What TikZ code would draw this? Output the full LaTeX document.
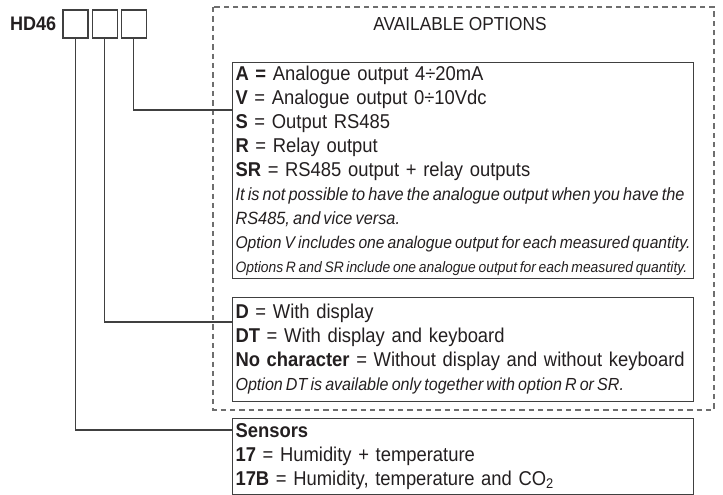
\documentclass[tikz,border=0pt]{standalone}
\usepackage{fontspec}
\setmainfont{Liberation Sans}[FakeStretch=0.92]
\usetikzlibrary{positioning}
\definecolor{ink}{HTML}{231F20}
\definecolor{edgegray}{HTML}{404040}
\definecolor{framegray}{HTML}{6E6E6E}
\newcommand{\note}[2]{\mbox{\fontsize{#1}{18}\selectfont\itshape\spaceskip=0.7\fontdimen2\font\relax #2}}

\begin{document}
\begin{tikzpicture}[x=0.75pt,y=-0.75pt,line width=0.8pt,draw=edgegray,text=ink,
    codebox/.style={draw=edgegray,minimum width=18.75pt,minimum height=21pt,inner sep=0pt},
    optbox/.style={draw=edgegray,anchor=north west,align=left,text width=341pt,
        inner xsep=2.25pt,inner ysep=0pt,font=\fontsize{15}{18}\selectfont},
    frame/.style={draw=framegray,dash pattern=on 4pt off 3pt}]
    \useasboundingbox (0,0) rectangle (723,495);
    % dashed frame round the options
    \draw[frame] (213,7) rectangle (714,410);
    \node[font=\fontsize{14.1}{16}\selectfont] (title) at (460,24) {AVAILABLE OPTIONS};

    % the code boxes
    \node[codebox] (sq1) at (75.5,24) {};
    \node[codebox, right=2.25pt of sq1] (sq2) {};
    \node[codebox, right=2.25pt of sq2] (sq3) {};
    \node[font=\bfseries\fontsize{14.7}{16}\selectfont, left=1pt of sq1] (hd) {HD46};

    \node[optbox, minimum height=162pt] (opt) at (232,62) {%
        \textbf{A =} Analogue output 4÷20mA\\
        \textbf{V} = Analogue output 0÷10Vdc\\
        \textbf{S} = Output RS485\\
        \textbf{R} = Relay output\\
        \textbf{SR} = RS485 output + relay outputs\\
        \note{13.3}{It is not possible to have the analogue output when you have the}\\
        \note{13.3}{RS485, and vice versa.}\\
        \note{12.75}{Option V includes one analogue output for each measured quantity.}\\
        \note{11.3}{Options R and SR include one analogue output for each measured quantity.}};
    \node[optbox, minimum height=78pt] (disp) at (232,297) {%
        \textbf{D} = With display\\
        \textbf{DT} = With display and keyboard\\
        \textbf{No character} = Without display and without keyboard\\
        \note{13.1}{Option DT is available only together with option R or SR.}};
    \node[optbox, minimum height=57pt] (sens) at (232,418) {%
        \textbf{Sensors}\\
        \textbf{17} = Humidity + temperature\\
        \textbf{17B} = Humidity, temperature and CO\textsubscript{2}};

    % connectors
    \draw (sq3.south) |- ([yshift=-36pt]opt.north west);
    \draw (sq2.south) |- ([yshift=-18.75pt]disp.north west);
    \draw (sq1.south) |- ([yshift=-9pt]sens.north west);
\end{tikzpicture}
\end{document}
